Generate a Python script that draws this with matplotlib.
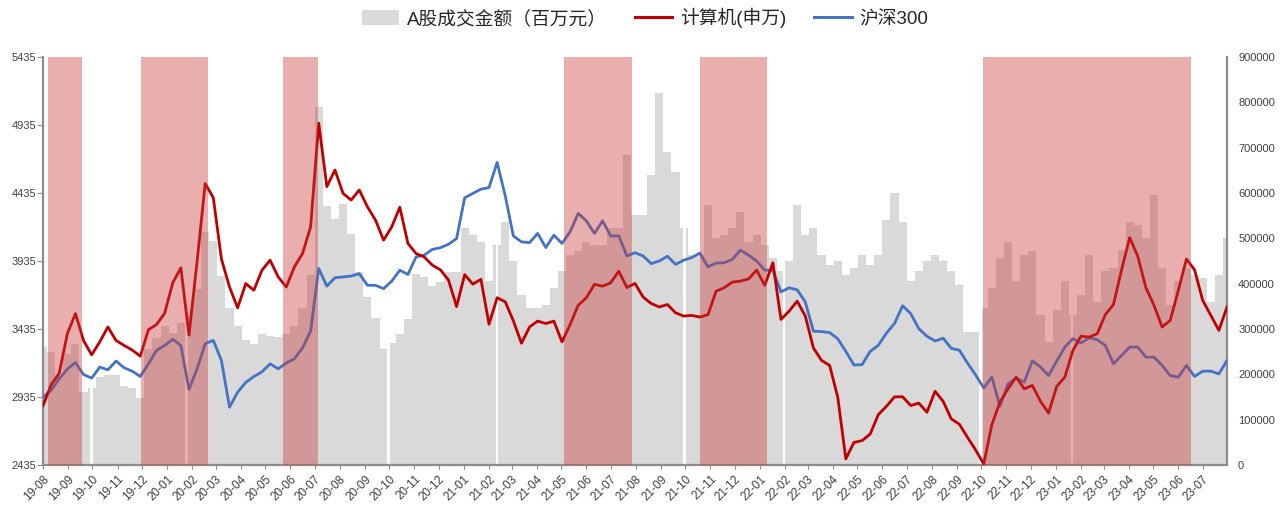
import matplotlib
matplotlib.use('Agg')
import matplotlib.pyplot as plt
import matplotlib.dates as mdates
from matplotlib.patches import Patch
from matplotlib.lines import Line2D
import pandas as pd

plt.rcParams['font.family'] = ['Liberation Sans', 'Noto Sans CJK SC', 'DejaVu Sans']
plt.rcParams['axes.unicode_minus'] = False

# sample dates (every 10 days, 2019-08-01 .. 2023-07-31)
dates = pd.date_range('2019-08-01', '2023-07-31', freq='10D')

computer = [
    2870, 3025, 3110, 3400, 3548, 3350, 3245, 3340, 3450, 3351,
    3314, 3280, 3235, 3430, 3468, 3550, 3775, 3885, 3390, 3930,
    4505, 4400, 3950, 3744, 3590, 3769, 3720, 3867, 3941, 3818,
    3744, 3892, 3990, 4186, 4948, 4482, 4604, 4432, 4383, 4457,
    4334, 4236, 4088, 4186, 4330, 4064, 3990, 3965, 3905, 3870,
    3795, 3600, 3835, 3765, 3800, 3470, 3665, 3635, 3495, 3330,
    3450, 3493, 3475, 3493, 3340, 3468, 3610, 3665, 3763, 3750,
    3775, 3860, 3740, 3770, 3670, 3622, 3597, 3615, 3554, 3530,
    3535, 3523, 3540, 3713, 3738, 3780, 3787, 3803, 3868, 3756,
    3922, 3505, 3566, 3640, 3530, 3296, 3204, 3167, 2934, 2480,
    2601, 2614, 2663, 2805, 2866, 2936, 2937, 2872, 2890, 2823,
    2977, 2903, 2774, 2735, 2638, 2546, 2442, 2731, 2897, 2995,
    3081, 2995, 3020, 2903, 2817, 3013, 3081, 3278, 3382, 3376,
    3400, 3541, 3615, 3870, 4107, 3969, 3738, 3609, 3450, 3498,
    3720, 3950, 3870, 3646, 3535, 3425, 3597,
]

hs300 = [
    2934, 2983, 3069, 3140, 3188, 3100, 3074, 3155, 3135, 3199,
    3150, 3125, 3086, 3179, 3278, 3314, 3359, 3314, 2990, 3142,
    3327, 3351, 3204, 2860, 2970, 3042, 3085, 3120, 3179, 3142,
    3185, 3216, 3296, 3420, 3880, 3750, 3812, 3818, 3824, 3842,
    3757, 3756, 3732, 3787, 3867, 3836, 3965, 3978, 4020, 4033,
    4058, 4100, 4400, 4432, 4463, 4475, 4660, 4414, 4119, 4076,
    4070, 4138, 4034, 4125, 4064, 4150, 4285, 4230, 4138, 4230,
    4119, 4119, 3972, 3996, 3972, 3916, 3935, 3970, 3910, 3941,
    3960, 3993, 3892, 3920, 3922, 3947, 4015, 3978, 3935, 3868,
    3867, 3708, 3738, 3723, 3634, 3419, 3416, 3409, 3363, 3270,
    3170, 3173, 3270, 3315, 3404, 3476, 3606, 3548, 3437, 3382,
    3347, 3367, 3293, 3279, 3185, 3097, 3001, 3081, 2868, 3031,
    3075, 3044, 3201, 3155, 3093, 3199, 3302, 3364, 3332, 3371,
    3356, 3314, 3179, 3241, 3302, 3302, 3228, 3228, 3167, 3093,
    3081, 3167, 3086, 3125, 3125, 3105, 3204,
]

turnover = [
    261000, 250000, 198000, 245000, 268000, 160000, 170000, 195000, 198000, 198000,
    175000, 170000, 148000, 255000, 280000, 306000, 292000, 314000, 336000, 388000,
    513000, 494000, 417000, 347000, 307000, 276000, 266000, 288000, 285000, 283000,
    288000, 307000, 347000, 420000, 790000, 572000, 542000, 575000, 509000, 425000,
    370000, 324000, 255000, 270000, 288000, 322000, 421000, 414000, 395000, 403000,
    426000, 426000, 522000, 507000, 493000, 405000, 485000, 537000, 449000, 375000,
    346000, 346000, 353000, 390000, 427000, 463000, 471000, 493000, 485000, 485000,
    522000, 522000, 684000, 552000, 552000, 640000, 820000, 691000, 647000, 522000,
    463000, 463000, 574000, 500000, 507000, 522000, 559000, 493000, 507000, 485000,
    456000, 427000, 449000, 574000, 507000, 522000, 463000, 441000, 449000, 419000,
    434000, 463000, 441000, 463000, 540000, 600000, 537000, 405000, 427000, 449000,
    463000, 449000, 427000, 397000, 294000, 294000, 346000, 390000, 456000, 493000,
    405000, 463000, 471000, 331000, 272000, 342000, 405000, 331000, 375000, 463000,
    360000, 427000, 434000, 474000, 537000, 530000, 500000, 596000, 434000, 353000,
    405000, 434000, 419000, 412000, 360000, 419000, 500000,
]

# highlighted periods
shade_start = ['2019-08-07', '2019-11-30', '2020-05-23', '2021-05-04', '2021-10-19', '2022-10-03']
shade_end = ['2019-09-18', '2020-02-21', '2020-07-05', '2021-07-27', '2022-01-10', '2023-06-16']

# long market closures (gaps in the turnover bars)
closures = ['2019-09-30', '2020-01-25', '2020-09-30', '2021-02-11',
            '2021-09-30', '2022-01-31', '2022-09-30', '2023-01-21']

left_ticks = [2435, 2935, 3435, 3935, 4435, 4935, 5435]
right_ticks = [0, 100000, 200000, 300000, 400000, 500000, 600000, 700000, 800000, 900000]

labels = ['A股成交金额（百万元）', '计算机(申万)', '沪深300']

RED = '#C00000'
BLUE = '#4472C4'
GRAY = '#D9D9D9'
SHADE = (200 / 255, 55 / 255, 55 / 255)
SPINE = '#8C8C8C'
TXT = '#404040'

W, H = 1285, 505
fig = plt.figure(figsize=(W / 100, H / 100), dpi=100)
ax = fig.add_axes([43 / W, (H - 465) / H, (1227 - 43) / W, (465 - 57) / H])
axr = ax.twinx()
ax.set_zorder(2)
axr.set_zorder(1)
ax.patch.set_visible(False)

axr.bar(dates, turnover, width=10, color=GRAY, linewidth=0, align='center', zorder=1)
for d in closures:
    t = pd.Timestamp(d)
    axr.axvspan(t - pd.Timedelta(days=1.5), t + pd.Timedelta(days=1.5), color='white', lw=0, zorder=2)

ax.plot(dates, hs300, color=BLUE, lw=2.0, zorder=3, solid_joinstyle='round')
ax.plot(dates, computer, color=RED, lw=2.0, zorder=4, solid_joinstyle='round')
for s, e in zip(shade_start, shade_end):
    ax.axvspan(pd.Timestamp(s), pd.Timestamp(e), color=SHADE, alpha=0.4, lw=0, zorder=5)

xmin, xmax = pd.Timestamp('2019-08-01'), pd.Timestamp('2023-07-31')
ax.set_xlim(xmin, xmax)
ax.set_ylim(left_ticks[0], left_ticks[-1])
axr.set_ylim(right_ticks[0], right_ticks[-1])
ax.set_yticks(left_ticks)
axr.set_yticks(right_ticks)

ax.xaxis.set_major_locator(mdates.MonthLocator())
ax.xaxis.set_major_formatter(mdates.DateFormatter('%y-%m'))
for lab in ax.get_xticklabels():
    lab.set_rotation(45)
    lab.set_ha('right')
    lab.set_rotation_mode('anchor')

ax.tick_params(axis='x', labelsize=8.5, colors=TXT, length=3, color=SPINE, pad=3)
ax.tick_params(axis='y', labelsize=8, colors=TXT, length=4, color=SPINE, pad=1)
axr.tick_params(axis='y', labelsize=8, colors=TXT, length=0, pad=8)

for sp in ['top', 'right']:
    ax.spines[sp].set_visible(False)
for sp in ['top', 'left', 'bottom']:
    axr.spines[sp].set_visible(False)
for sp in ['left', 'bottom']:
    ax.spines[sp].set_color(SPINE)
    ax.spines[sp].set_linewidth(1.6)
axr.spines['right'].set_color(SPINE)
axr.spines['right'].set_linewidth(1.6)

handles = [Patch(facecolor=GRAY, edgecolor='none'),
           Line2D([0], [0], color=RED, lw=2.2),
           Line2D([0], [0], color=BLUE, lw=2.2)]
fig.legend(handles, labels, loc='center', bbox_to_anchor=(645 / W, 1 - 18 / H), ncol=3,
           frameon=False, fontsize=13.5, handlelength=2.0, handleheight=0.9,
           handletextpad=0.4, columnspacing=1.5, labelcolor='#262626')

fig.savefig('out.png', dpi=100)
